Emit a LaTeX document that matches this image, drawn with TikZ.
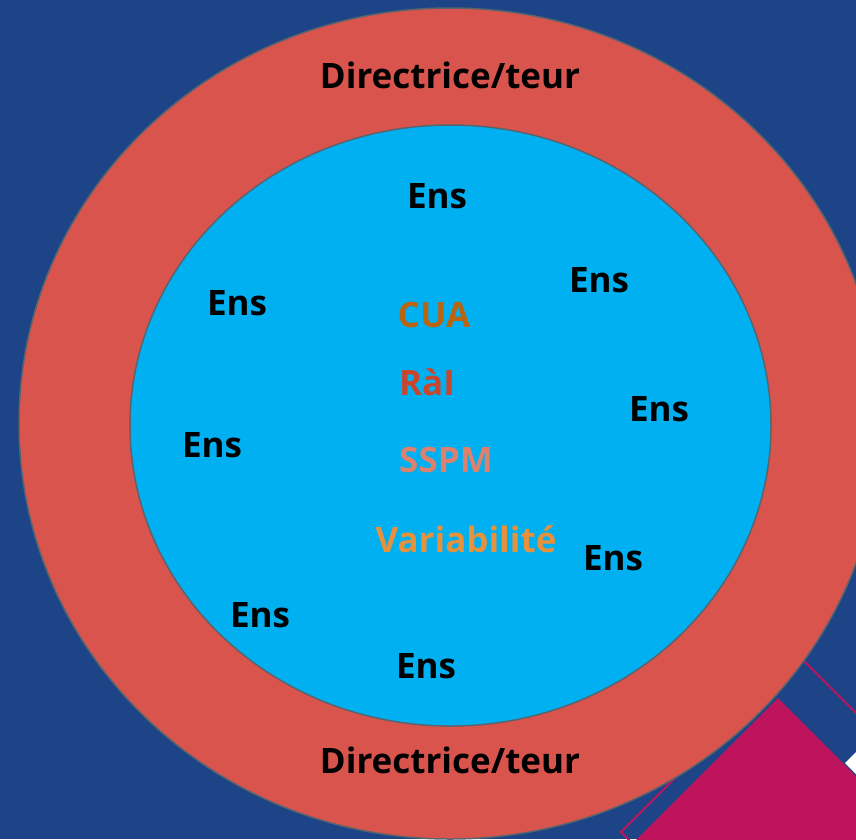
\documentclass[tikz,border=0pt]{standalone}
\usepackage{fontspec}
\setmainfont{Open Sans}
\usepackage{tikz}
\usetikzlibrary{positioning,calc}
\definecolor{myblue}{RGB}{29,68,134}
\definecolor{myred}{RGB}{217,84,77}
\definecolor{mycyan}{RGB}{0,176,240}
\definecolor{mymagenta}{RGB}{190,20,94}
\definecolor{mygray}{RGB}{90,100,110}
\definecolor{mybrown}{RGB}{185,100,15}
\definecolor{myrust}{RGB}{200,70,45}
\definecolor{mysalmon}{RGB}{222,128,110}
\definecolor{myorange}{RGB}{230,145,60}

\begin{document}
\begin{tikzpicture}[
  x=1pt,y=-1pt,
  myring/.style={
    draw=mygray,
    line width=1.5pt,
    fill=#1
    },
  mytext/.style={
    font=\fontsize{35}{40}\selectfont\bfseries,
    anchor=base,
    inner sep=0pt,
    text=#1
    },
  mytext/.default=black
]
\useasboundingbox (0,0) rectangle (856,839);
\clip (0,0) rectangle (856,839);
\fill[myblue] (0,0) rectangle (856,839);
% corner decoration
\draw[mymagenta,line width=2pt]
  (621,832) -- (798,655) -- (998,855) -- (821,1032) -- cycle;
\fill[mymagenta] (778,698) -- (978,898) -- (778,1098) -- (578,898) -- cycle;
\fill[white] (845,763) -- (945,663) -- (1045,763) -- (945,863) -- cycle;
% rings
\path[myring=myred] (450,423.5) ellipse [x radius=431, y radius=415.5];
\path[myring=mycyan] (450.5,425.5) ellipse [x radius=320.5, y radius=300.5];
% labels
\node[mytext] (dirtop) at (450,88) {Directrice/teur};
\node[mytext] (dirbot) at (450,773) {Directrice/teur};
\node[mytext] (ens1) at (437,208) {Ens};
\node[mytext] (ens2) at (599,292) {Ens};
\node[mytext] (ens3) at (237,315) {Ens};
\node[mytext] (ens4) at (659,421) {Ens};
\node[mytext] (ens5) at (212,457) {Ens};
\node[mytext] (ens6) at (613,570) {Ens};
\node[mytext] (ens7) at (260,627) {Ens};
\node[mytext] (ens8) at (426,678) {Ens};
\node[mytext=mybrown] (cua) at (434,327) {CUA};
\node[mytext=myrust] (rai) at (427,395) {RàI};
\node[mytext=mysalmon] (sspm) at (446,472) {SSPM};
\node[mytext=myorange] (varia) at (466,552) {Variabilité};
\end{tikzpicture}
\end{document}
